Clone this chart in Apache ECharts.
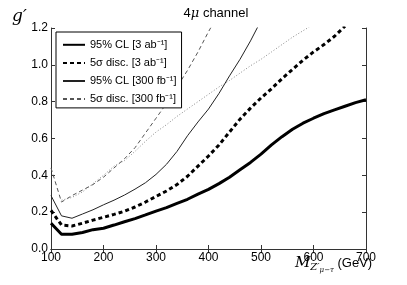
<!DOCTYPE html>
<html><head><meta charset="utf-8">
<script src="https://cdn.jsdelivr.net/npm/echarts@6/dist/echarts.min.js"></script>
<style>html,body{margin:0;padding:0;background:#fff}#c{width:407px;height:285px}</style>
</head><body><div id="c"></div>
<script>
var xTicks = [100, 200, 300, 400, 500, 600, 700];
var yTicks = [0.0, 0.2, 0.4, 0.6, 0.8, 1.0, 1.2];
var seriesNames = ['95% CL [3 ab⁻¹]', '5σ disc. [3 ab⁻¹]', '95% CL [300 fb⁻¹]', '5σ disc. [300 fb⁻¹]', 'extra'];
var massCL3 = [100,120,140,160,180,200,220,240,260,280,300,320,340,360,380,400,420,440,460,480,500,520,540,560,580,600,620,640,660,680,700];
var cl3ab = [0.14,0.08,0.08,0.09,0.105,0.113,0.13,0.148,0.165,0.185,0.206,0.225,0.248,0.27,0.298,0.324,0.355,0.39,0.43,0.47,0.515,0.565,0.61,0.65,0.683,0.71,0.735,0.755,0.775,0.795,0.81];
var massDisc3 = [100,120,140,160,180,200,220,240,260,280,300,320,340,360,380,400,420,440,460,480,500,520,540,560,580,600,620,640,660];
var disc3ab = [0.21,0.13,0.125,0.14,0.157,0.172,0.188,0.205,0.228,0.255,0.285,0.315,0.35,0.395,0.45,0.505,0.565,0.635,0.705,0.765,0.82,0.87,0.925,0.975,1.025,1.07,1.11,1.155,1.21];
var massCL300 = [100,120,140,160,180,200,220,240,260,280,300,320,340,360,380,400,420,440,460,480,500];
var cl300 = [0.29,0.18,0.167,0.19,0.213,0.24,0.265,0.293,0.325,0.36,0.405,0.46,0.53,0.615,0.69,0.76,0.845,0.94,1.03,1.13,1.24];
var massDisc300 = [100,120,140,160,180,200,220,240,260,280,300,320,340,360,380,400,410];
var disc300 = [0.44,0.255,0.29,0.32,0.35,0.39,0.44,0.49,0.55,0.63,0.71,0.79,0.88,0.97,1.07,1.18,1.23];
var massExtra = [120,140,160,180,200,220,240,260,280,300,320,340,360,380,400,420,440,460,480,500,520,540,560,580,600];
var extra = [0.265,0.28,0.31,0.355,0.40,0.45,0.48,0.53,0.585,0.635,0.675,0.72,0.76,0.80,0.84,0.88,0.915,0.955,0.995,1.03,1.07,1.11,1.15,1.185,1.22];

function pairs(xs, ys){ return xs.map(function(x,i){ return [x, ys[i]]; }); }

var chart = echarts.init(document.getElementById('c'), null, {renderer:'canvas'});
var font = 'Liberation Sans';
var axisCommon = {
  axisLine:{show:true, lineStyle:{color:'#333', width:1}},
  axisTick:{show:true, inside:true, length:4, lineStyle:{color:'#333'}},
  splitLine:{show:false}
};
function mkSeries(name, xs, ys, w, color, type){
  return {name:name, type:'line', data:pairs(xs, ys), showSymbol:false, symbol:'emptyCircle', symbolSize:0,
    lineStyle:{width:w, color:color, type:type}, itemStyle:{color:color}, silent:true, animation:false, clip:true};
}
chart.setOption({
  animation:false,
  grid:{left:51, top:28, right:41, bottom:36},
  title:{text:'{n|4}{m|μ}{n| channel}', left:211, top:2, textAlign:'center',
    textStyle:{fontWeight:'normal', rich:{n:{fontFamily:font, fontWeight:'normal', fontSize:13, color:'#000'}, m:{fontFamily:'DejaVu Serif', fontWeight:'normal', fontStyle:'italic', fontSize:13, color:'#000'}}}},
  xAxis:[
    Object.assign({type:'value', min:xTicks[0], max:xTicks[xTicks.length-1], interval:100, position:'bottom',
      axisLabel:{color:'#000', fontFamily:font, fontSize:12, margin:3}}, axisCommon),
    Object.assign({type:'value', min:xTicks[0], max:xTicks[xTicks.length-1], interval:100, position:'top',
      axisLabel:{show:false}}, axisCommon)
  ],
  yAxis:[
    Object.assign({type:'value', min:yTicks[0], max:yTicks[yTicks.length-1], interval:0.2, position:'left',
      axisLabel:{color:'#000', fontFamily:font, fontSize:12, margin:3, formatter:function(v){return v.toFixed(1);}}}, axisCommon),
    Object.assign({type:'value', min:yTicks[0], max:yTicks[yTicks.length-1], interval:0.2, position:'right',
      axisLabel:{show:false}}, axisCommon)
  ],
  legend:{data:seriesNames.slice(0,4), orient:'vertical', left:56, top:32, itemWidth:22, itemHeight:12, itemGap:6.5,
    backgroundColor:'#fff', borderColor:'#000', borderWidth:1, borderRadius:0, padding:[7,5,3,6],
    itemStyle:{opacity:0},
    textStyle:{fontFamily:font, fontSize:11, color:'#000'}},
  series:[
    mkSeries(seriesNames[0], massCL3, cl3ab, 3, '#000', 'solid'),
    mkSeries(seriesNames[1], massDisc3, disc3ab, 3, '#000', [4,3]),
    mkSeries(seriesNames[2], massCL300, cl300, 1, '#222', 'solid'),
    mkSeries(seriesNames[3], massDisc300, disc300, 1, '#555', [4,3]),
    mkSeries(seriesNames[4], massExtra, extra, 1, '#888', [1,2])
  ],
  graphic:[
    {type:'text', left:12, top:8, style:{text:"g′", font:'italic 17px "DejaVu Serif"', fill:'#000'}},
    {type:'text', left:295, top:256, style:{
      text:'{m|M}{s|Z′}{t|μ−τ}{g| (GeV)}',
      rich:{
        m:{font:'italic 15px "DejaVu Serif"', fill:'#000', fontStyle:'italic'},
        s:{font:'italic 10px "DejaVu Serif"', fill:'#000', padding:[8,0,0,0]},
        t:{font:'italic 7px "DejaVu Serif"', fill:'#000', padding:[13,0,0,0]},
        g:{font:'13px "Liberation Sans"', fill:'#000'}
      }}}
  ]
});
</script>
</body></html>
